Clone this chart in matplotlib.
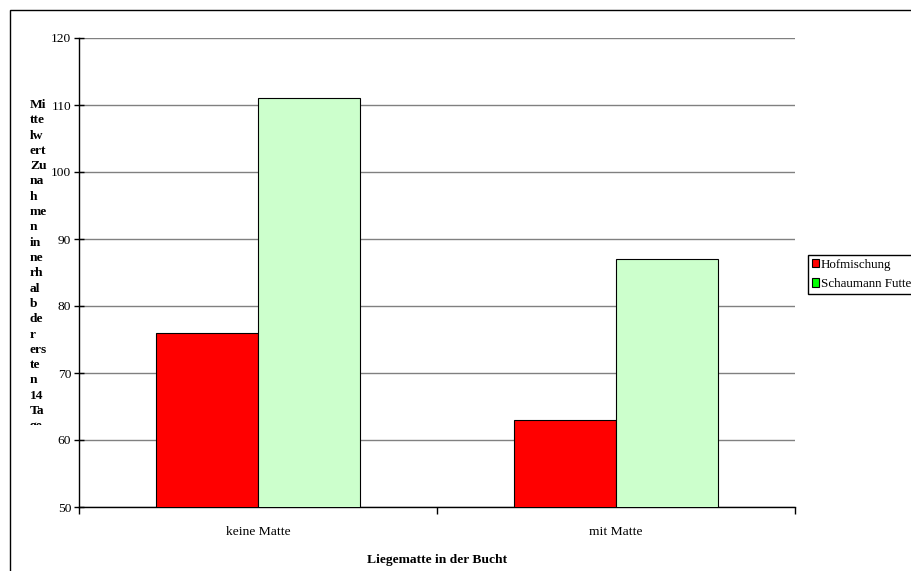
import matplotlib

matplotlib.use("Agg")
import matplotlib.pyplot as plt
import numpy as np
from matplotlib.patches import Rectangle
from matplotlib.transforms import Bbox, TransformedBbox

plt.rcParams["font.family"] = ["Liberation Serif", "DejaVu Serif"]

categories = ["keine Matte", "mit Matte"]
series_names = ["Hofmischung", "Schaumann Futter"]
hofmischung = [76, 63]
schaumann = [111, 87]
y_ticks = [50, 60, 70, 80, 90, 100, 110, 120]

# wrapped y-axis title, chopped the same way the narrow text box breaks it
ylabel_lines = ["Mi", "tte", "lw", "ert", "Zu", "na", "h", "me", "n", "in",
                "ne", "rh", "al", "b", "de", "r", "ers", "te", "n", "14",
                "Ta", "ge"]

FS = 9.7
W, H = 912, 571
fig = plt.figure(figsize=(W / 100, H / 100), dpi=100)

# chart-area border (runs off the right and bottom edges)
fig.patches.append(Rectangle((10 / W, -0.2), 2.0, 1.2 - 10 / H,
                             transform=fig.transFigure, fill=False,
                             edgecolor="black", linewidth=1.0))

ax = fig.add_axes([79 / W, 1 - 507 / H, (795 - 79) / W, (507 - 38) / H])
x = np.arange(len(categories)) + 0.5
bw = 0.285
ax.bar(x - bw / 2, hofmischung, bw, color="#FF0000", edgecolor="black",
       linewidth=0.8, zorder=3)
ax.bar(x + bw / 2, schaumann, bw, color="#CCFFCC", edgecolor="black",
       linewidth=0.8, zorder=3)

ax.set_xlim(0, len(categories))
ax.set_ylim(50, 120)
ax.set_yticks(y_ticks)
ax.set_yticklabels([str(v) for v in y_ticks], fontsize=FS)
ax.yaxis.grid(True, color="#808080", linewidth=1.0, zorder=0)
ax.tick_params(axis="y", direction="inout", length=7, width=1, pad=2)

ax.set_xticks(np.arange(len(categories) + 1))
ax.set_xticklabels([])
ax.set_xticks(x, minor=True)
ax.set_xticklabels(categories, minor=True, fontsize=FS)
ax.tick_params(axis="x", which="major", direction="out", length=5, width=1)
ax.tick_params(axis="x", which="minor", length=0, pad=14)
ax.set_xlabel("Liegematte in der Bucht", fontsize=FS, fontweight="bold",
              labelpad=11)

for side in ("top", "right"):
    ax.spines[side].set_visible(False)
for side in ("left", "bottom"):
    ax.spines[side].set_linewidth(1.0)

clip = TransformedBbox(Bbox([[0, 1 - 424.5 / H], [1, 1]]), fig.transFigure)
for i, line in enumerate(ylabel_lines):
    t = fig.text(30 / W, 1 - (105 + i * 15.3) / H, line, fontsize=FS,
                 fontweight="bold", ha="left", va="center")
    t.set_clip_box(clip)
    t.set_clip_on(True)

handles = [Rectangle((0, 0), 1, 1, facecolor="#FF0000", edgecolor="black",
                     linewidth=0.8),
           Rectangle((0, 0), 1, 1, facecolor="#00FF00", edgecolor="black",
                     linewidth=0.8)]
fig.legend(handles, series_names, loc="upper left",
           bbox_to_anchor=(808 / W, 1 - 255 / H), fontsize=9.4,
           frameon=True, fancybox=False, edgecolor="black", framealpha=1,
           handlelength=0.55, handleheight=0.6, handletextpad=0.12,
           borderpad=0.3, labelspacing=0.55, borderaxespad=0)

fig.savefig("out.png", dpi=100)
plt.close(fig)
